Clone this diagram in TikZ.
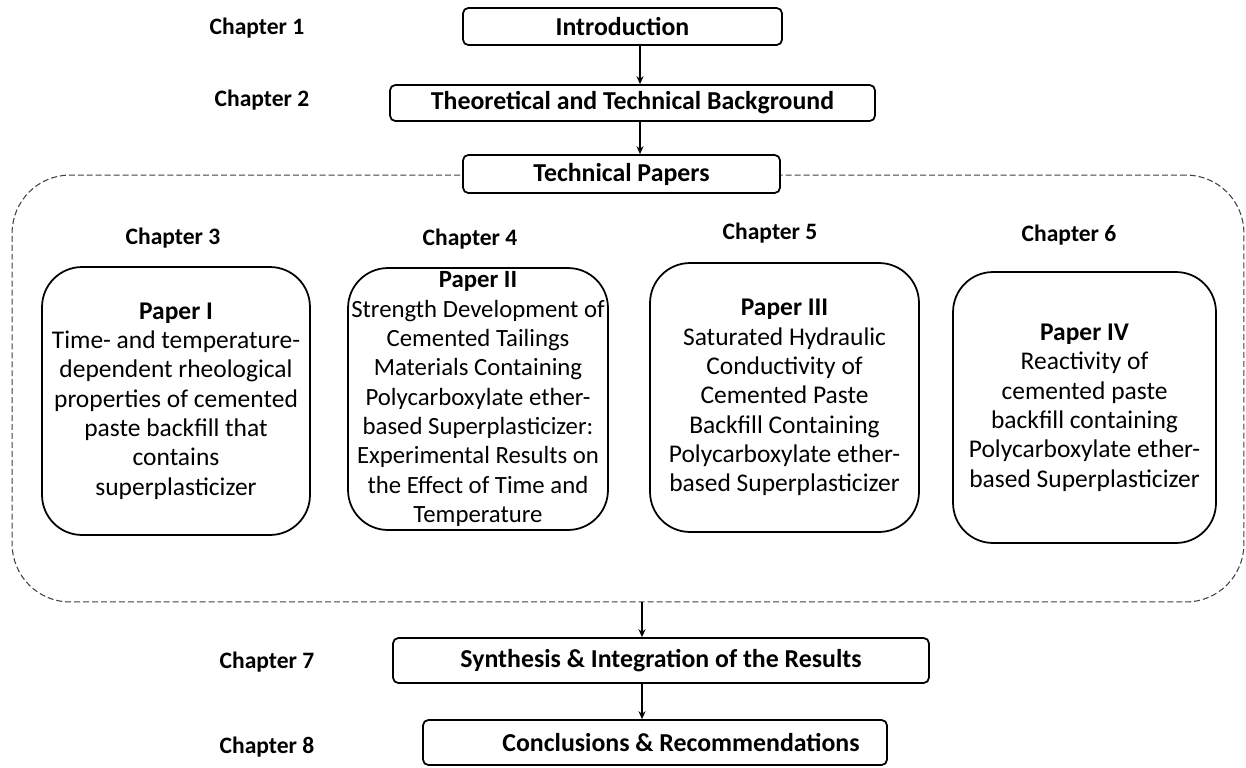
\documentclass[tikz,border=0pt]{standalone}
\usepackage{fontspec}
\setmainfont{Carlito}
\usetikzlibrary{arrows.meta}

\begin{document}
\begin{tikzpicture}[x=0.02cm, y=-0.02cm,
    every node/.style={font=\fontsize{14.5}{16.7}\selectfont},
    chapbox/.style={draw, line width=1pt, rounded corners=3pt, fill=white, inner sep=0pt,
        font=\fontsize{14.7}{16.7}\selectfont\bfseries},
    paperbox/.style={draw, line width=1pt, rounded corners=0.8cm, align=center, inner sep=0pt},
    chaplabel/.style={font=\fontsize{13.4}{16}\selectfont\bfseries},
    groupframe/.style={draw=black!75, dash pattern=on 3.4pt off 1.7pt, line width=0.6pt,
        rounded corners=1.16cm, inner sep=0pt},
    flow/.style={line width=0.8pt, -{Stealth[length=4.5pt,width=4pt]}}]

    \useasboundingbox (0,0) rectangle (1246,767);

    % dashed group round the papers
    \node[groupframe, minimum width=24.64cm, minimum height=8.54cm] (papers) at (628,388.5) {};

    % main chapters
    \node[chapbox, minimum width=6.38cm, minimum height=0.74cm] (intro) at (622.5,26.5) {Introduction};
    \node[chapbox, minimum width=9.7cm, minimum height=0.72cm] (theory) at (632.5,103) {Theoretical and Technical Background};
    \node[chapbox, minimum width=6.34cm, minimum height=0.76cm] (techpap) at (621.5,174) {Technical Papers};
    \node[chapbox, minimum width=10.72cm, minimum height=0.9cm] (synth) at (661,660.5) {Synthesis \& Integration of the Results};
    \node[chapbox, minimum width=9.28cm, minimum height=0.9cm] (concl) at (655,742.5) {\hspace*{1.04cm}Conclusions \& Recommendations};

    % chapter labels
    \node[chaplabel] (ch1) at (257,28) {Chapter 1};
    \node[chaplabel] (ch2) at (262,100) {Chapter 2};
    \node[chaplabel] (ch3) at (173,238) {Chapter 3};
    \node[chaplabel] (ch4) at (470,239) {Chapter 4};
    \node[chaplabel] (ch5) at (770,233) {Chapter 5};
    \node[chaplabel] (ch6) at (1069,235) {Chapter 6};
    \node[chaplabel] (ch7) at (267,662) {Chapter 7};
    \node[chaplabel] (ch8) at (267,747) {Chapter 8};

    % papers
    \node[paperbox, minimum width=5.36cm, minimum height=5.36cm] (p1) at (176,401)
        {\textbf{Paper I}\\Time- and temperature-\\dependent rheological\\properties of cemented\\paste backfill that\\contains\\superplasticizer};
    \node[paperbox, minimum width=5.2cm, minimum height=5.24cm, font=\fontsize{14.1}{16.7}\selectfont] (p2) at (478,399)
        {\textbf{Paper II}\\Strength Development of\\Cemented Tailings\\Materials Containing\\Polycarboxylate ether-\\based Superplasticizer:\\Experimental Results on\\the Effect of Time and\\Temperature};
    \node[paperbox, minimum width=5.38cm, minimum height=5.38cm] (p3) at (784.5,397.5)
        {\textbf{Paper III}\\Saturated Hydraulic\\Conductivity of\\Cemented Paste\\Backfill Containing\\Polycarboxylate ether-\\based Superplasticizer};
    \node[paperbox, minimum width=5.26cm, minimum height=5.42cm] (p4) at (1084.5,407.5)
        {\textbf{Paper IV}\\Reactivity of\\cemented paste\\backfill containing\\Polycarboxylate ether-\\based Superplasticizer};

    % arrows
    \coordinate (spine) at (640,0);
    \coordinate (spinelow) at (642,0);
    \draw[flow] (intro.south -| spine) -- (theory.north -| spine);
    \draw[flow] (theory.south -| spine) -- (techpap.north -| spine);
    \draw[flow] (papers.south -| spinelow) -- (synth.north -| spinelow);
    \draw[flow] (synth.south -| spinelow) -- (concl.north -| spinelow);

\end{tikzpicture}
\end{document}
